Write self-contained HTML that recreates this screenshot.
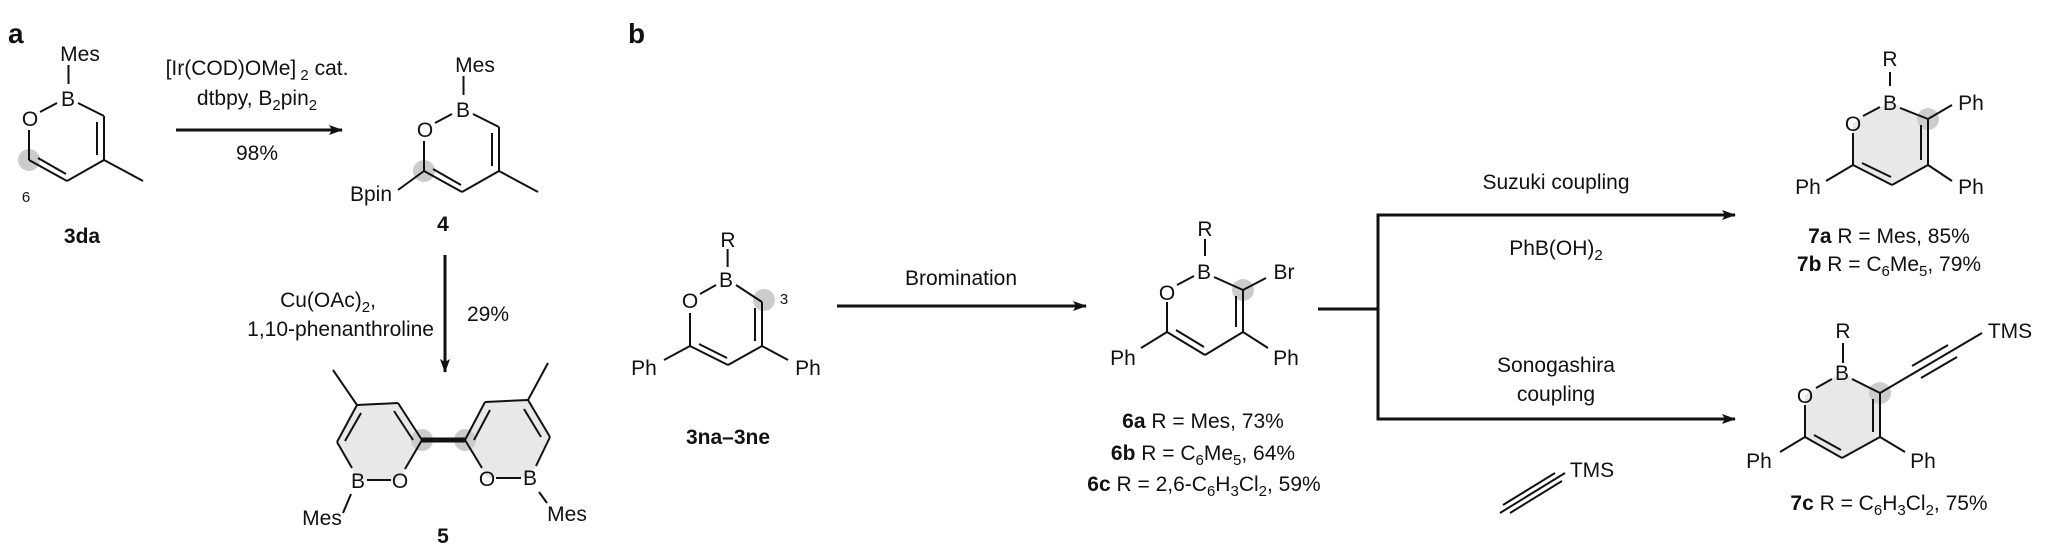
<!DOCTYPE html>
<html><head><meta charset="utf-8"><style>
html,body{margin:0;padding:0;background:#fff;}
svg{display:block;}
text{font-family:"Liberation Sans",Arial,sans-serif;font-size:21px;fill:#111;}
.b{font-weight:bold;}
.s{font-size:15px;}
line,polyline{stroke:#111;stroke-width:2;fill:none;stroke-linecap:butt;}
.ar{stroke-width:3;}
</style></head><body>
<svg width="2046" height="551" viewBox="0 0 2046 551" xmlns="http://www.w3.org/2000/svg">
<defs>
<marker id="ah" markerWidth="14" markerHeight="10" refX="13" refY="5" orient="auto" markerUnits="userSpaceOnUse">
<path d="M0,0 L14,5 L0,10 L3,5 Z" fill="#111"/></marker>
</defs>

<!-- a -->
<text x="8" y="43" class="b" style="font-size:28px">a</text>

<!-- 3da -->
<g id="m3da">
<circle cx="29" cy="160" r="11" fill="#ccc"/>
<line x1="68.5" y1="65" x2="68.5" y2="84"/>
<line x1="78" y1="103" x2="104" y2="116"/>
<line x1="104" y1="116" x2="104" y2="160"/>
<line x1="97" y1="122" x2="97" y2="155"/>
<line x1="104" y1="160" x2="67" y2="181"/>
<line x1="67" y1="181" x2="29" y2="160"/>
<line x1="66" y1="174" x2="38" y2="158"/>
<line x1="29" y1="160" x2="29" y2="130"/>
<line x1="40" y1="112" x2="57" y2="103"/>
<line x1="104" y1="160" x2="143" y2="181"/>
<text x="80" y="61" text-anchor="middle">Mes</text>
<text x="68" y="106" text-anchor="middle">B</text>
<text x="30" y="126" text-anchor="middle">O</text>
</g>
<text x="26" y="202" text-anchor="middle" class="s">6</text>
<text x="82" y="243" text-anchor="middle" class="b">3da</text>

<!-- arrow 1 -->
<line class="ar" x1="176" y1="130" x2="342" y2="130" marker-end="url(#ah)"/>
<text x="257" y="75" text-anchor="middle">[Ir(COD)OMe]<tspan class="s" dy="5"> 2</tspan><tspan dy="-5"> cat.</tspan></text>
<text x="257" y="105" text-anchor="middle">dtbpy, B<tspan class="s" dy="5">2</tspan><tspan dy="-5">pin</tspan><tspan class="s" dy="5">2</tspan></text>
<text x="257" y="160" text-anchor="middle">98%</text>

<!-- 4 -->
<g transform="translate(395,11)">
<circle cx="29" cy="160" r="11" fill="#ccc"/>
<line x1="68.5" y1="65" x2="68.5" y2="84"/>
<line x1="78" y1="103" x2="104" y2="116"/>
<line x1="104" y1="116" x2="104" y2="160"/>
<line x1="97" y1="122" x2="97" y2="155"/>
<line x1="104" y1="160" x2="67" y2="181"/>
<line x1="67" y1="181" x2="29" y2="160"/>
<line x1="66" y1="174" x2="38" y2="158"/>
<line x1="29" y1="160" x2="29" y2="130"/>
<line x1="40" y1="112" x2="57" y2="103"/>
<line x1="104" y1="160" x2="143" y2="181"/>
<line x1="29" y1="160" x2="3" y2="179"/>
<text x="80" y="61" text-anchor="middle">Mes</text>
<text x="68" y="106" text-anchor="middle">B</text>
<text x="30" y="126" text-anchor="middle">O</text>
</g>
<text x="371" y="201" text-anchor="middle">Bpin</text>
<text x="443" y="231" text-anchor="middle" class="b">4</text>

<!-- down arrow -->
<line class="ar" x1="445" y1="255" x2="445" y2="372" marker-end="url(#ah)"/>
<text x="328" y="307" text-anchor="middle">Cu(OAc)<tspan class="s" dy="5">2</tspan><tspan dy="-5">,</tspan></text>
<text x="434" y="336" text-anchor="end">1,10-phenanthroline</text>
<text x="488" y="321" text-anchor="middle">29%</text>

<!-- 5 -->
<polygon points="357,405 398,403 422,440 400,480 358,480 337,442" fill="#e8e8e8"/>
<polygon points="465,440 485,402 528,400 550,437 530,477 487,478" fill="#e8e8e8"/>
<circle cx="422" cy="440" r="11" fill="#ccc"/>
<circle cx="465" cy="440" r="11" fill="#ccc"/>
<line x1="333" y1="370" x2="357" y2="405"/>
<line x1="357" y1="405" x2="398" y2="403"/>
<line x1="398" y1="403" x2="422" y2="440"/>
<line x1="394" y1="411" x2="413" y2="440"/>
<line x1="357" y1="405" x2="337" y2="442"/>
<line x1="361" y1="413" x2="345" y2="441"/>
<line x1="337" y1="442" x2="352" y2="468"/>
<line x1="422" y1="440" x2="405" y2="469"/>
<line x1="367" y1="480" x2="391" y2="480"/>
<line x1="351" y1="494" x2="343" y2="513"/>
<line x1="422" y1="440" x2="465" y2="440" style="stroke-width:5"/>
<line x1="465" y1="440" x2="482" y2="468"/>
<line x1="465" y1="440" x2="485" y2="402"/>
<line x1="474" y1="440" x2="490" y2="410"/>
<line x1="485" y1="402" x2="528" y2="400"/>
<line x1="528" y1="400" x2="550" y2="437"/>
<line x1="524" y1="409" x2="541" y2="437"/>
<line x1="528" y1="400" x2="548" y2="363"/>
<line x1="550" y1="437" x2="536" y2="466"/>
<line x1="496" y1="478" x2="521" y2="478"/>
<line x1="539" y1="492" x2="547" y2="503"/>
<text x="358" y="488" text-anchor="middle">B</text>
<text x="400" y="488" text-anchor="middle">O</text>
<text x="322" y="525" text-anchor="middle">Mes</text>
<text x="487" y="486" text-anchor="middle">O</text>
<text x="530" y="485" text-anchor="middle">B</text>
<text x="567" y="521" text-anchor="middle">Mes</text>
<text x="443" y="543" text-anchor="middle" class="b">5</text>

<!-- b -->
<text x="628" y="43" class="b" style="font-size:28px">b</text>

<!-- 3na -->
<circle cx="764" cy="300" r="11" fill="#ccc"/>
<line x1="727.6" y1="249" x2="727.6" y2="267"/>
<line x1="736" y1="285" x2="762" y2="302"/>
<line x1="762" y1="302" x2="762" y2="346"/>
<line x1="755" y1="308" x2="755" y2="341"/>
<line x1="762" y1="346" x2="728" y2="365"/>
<line x1="728" y1="365" x2="690" y2="346"/>
<line x1="727" y1="358" x2="699" y2="344"/>
<line x1="690" y1="346" x2="690" y2="313"/>
<line x1="700" y1="294" x2="716" y2="285"/>
<line x1="690" y1="346" x2="664" y2="360"/>
<line x1="762" y1="346" x2="788" y2="360"/>
<text x="728" y="247" text-anchor="middle">R</text>
<text x="726" y="287" text-anchor="middle">B</text>
<text x="690" y="308" text-anchor="middle">O</text>
<text x="784" y="304" text-anchor="middle" class="s">3</text>
<text x="644" y="375" text-anchor="middle">Ph</text>
<text x="808" y="375" text-anchor="middle">Ph</text>
<text x="728" y="444" text-anchor="middle" class="b">3na–3ne</text>

<!-- bromination -->
<line class="ar" x1="837" y1="306" x2="1086" y2="306" marker-end="url(#ah)"/>
<text x="961" y="285" text-anchor="middle">Bromination</text>

<!-- 6 -->
<circle cx="1243" cy="290" r="11" fill="#ccc"/>
<line x1="1205" y1="239" x2="1205" y2="256"/>
<line x1="1214" y1="277" x2="1243" y2="290"/>
<line x1="1243" y1="290" x2="1266" y2="278"/>
<line x1="1243" y1="290" x2="1243" y2="332"/>
<line x1="1236" y1="296" x2="1236" y2="327"/>
<line x1="1243" y1="332" x2="1205" y2="355"/>
<line x1="1205" y1="355" x2="1167" y2="332"/>
<line x1="1204" y1="347" x2="1176" y2="330"/>
<line x1="1167" y1="332" x2="1167" y2="302"/>
<line x1="1177" y1="285" x2="1194" y2="276"/>
<line x1="1167" y1="332" x2="1141" y2="348"/>
<line x1="1243" y1="332" x2="1268" y2="348"/>
<text x="1205" y="236" text-anchor="middle">R</text>
<text x="1204" y="279" text-anchor="middle">B</text>
<text x="1167" y="300" text-anchor="middle">O</text>
<text x="1284" y="279" text-anchor="middle">Br</text>
<text x="1123" y="365" text-anchor="middle">Ph</text>
<text x="1286" y="365" text-anchor="middle">Ph</text>
<text x="1203" y="428" text-anchor="middle"><tspan class="b">6a</tspan> R = Mes, 73%</text>
<text x="1203" y="460" text-anchor="middle"><tspan class="b">6b</tspan> R = C<tspan class="s" dy="5">6</tspan><tspan dy="-5">Me</tspan><tspan class="s" dy="5">5</tspan><tspan dy="-5">, 64%</tspan></text>
<text x="1204" y="491" text-anchor="middle"><tspan class="b">6c</tspan> R = 2,6-C<tspan class="s" dy="5">6</tspan><tspan dy="-5">H</tspan><tspan class="s" dy="5">3</tspan><tspan dy="-5">Cl</tspan><tspan class="s" dy="5">2</tspan><tspan dy="-5">, 59%</tspan></text>

<!-- bracket -->
<line class="ar" x1="1318" y1="309" x2="1378" y2="309"/>
<line class="ar" x1="1378" y1="213.5" x2="1378" y2="420.5"/>
<line class="ar" x1="1377" y1="215" x2="1735" y2="215" marker-end="url(#ah)"/>
<line class="ar" x1="1377" y1="419" x2="1735" y2="419" marker-end="url(#ah)"/>
<text x="1556" y="189" text-anchor="middle">Suzuki coupling</text>
<text x="1556" y="255" text-anchor="middle">PhB(OH)<tspan class="s" dy="5">2</tspan></text>
<text x="1556" y="372" text-anchor="middle">Sonogashira</text>
<text x="1556" y="401" text-anchor="middle">coupling</text>
<line x1="1565" y1="473" x2="1500" y2="513"/>
<line x1="1555" y1="473" x2="1503" y2="505"/>
<line x1="1562" y1="481" x2="1510" y2="513"/>
<text x="1592" y="477" text-anchor="middle">TMS</text>

<!-- 7a -->
<polygon points="1890,102 1928,119 1928,165 1892,185 1853,165 1853,123" fill="#e8e8e8"/>
<circle cx="1928" cy="119" r="11" fill="#ccc"/>
<line x1="1890" y1="72" x2="1890" y2="86"/>
<line x1="1900" y1="108" x2="1928" y2="119"/>
<line x1="1928" y1="119" x2="1952" y2="105"/>
<line x1="1928" y1="119" x2="1928" y2="165"/>
<line x1="1921" y1="125" x2="1921" y2="160"/>
<line x1="1928" y1="165" x2="1892" y2="185"/>
<line x1="1892" y1="185" x2="1853" y2="165"/>
<line x1="1891" y1="177" x2="1862" y2="163"/>
<line x1="1853" y1="165" x2="1853" y2="133"/>
<line x1="1863" y1="116" x2="1880" y2="107"/>
<line x1="1928" y1="165" x2="1952" y2="181"/>
<line x1="1853" y1="165" x2="1826" y2="181"/>
<text x="1890" y="66" text-anchor="middle">R</text>
<text x="1890" y="110" text-anchor="middle">B</text>
<text x="1853" y="131" text-anchor="middle">O</text>
<text x="1971" y="110" text-anchor="middle">Ph</text>
<text x="1971" y="194" text-anchor="middle">Ph</text>
<text x="1808" y="194" text-anchor="middle">Ph</text>
<text x="1889" y="243" text-anchor="middle"><tspan class="b">7a</tspan> R = Mes, 85%</text>
<text x="1889" y="271" text-anchor="middle"><tspan class="b">7b</tspan> R = C<tspan class="s" dy="5">6</tspan><tspan dy="-5">Me</tspan><tspan class="s" dy="5">5</tspan><tspan dy="-5">, 79%</tspan></text>

<!-- 7c -->
<polygon points="1842,372 1880,393 1880,437 1842,458 1805,437 1805,395" fill="#e8e8e8"/>
<circle cx="1880" cy="393" r="11" fill="#ccc"/>
<line x1="1843" y1="343" x2="1843" y2="363"/>
<line x1="1852" y1="379" x2="1880" y2="393"/>
<line x1="1880" y1="393" x2="1982" y2="333"/>
<line x1="1912" y1="366" x2="1948" y2="345"/>
<line x1="1921" y1="378" x2="1957" y2="357"/>
<line x1="1880" y1="393" x2="1880" y2="437"/>
<line x1="1873" y1="399" x2="1873" y2="432"/>
<line x1="1880" y1="437" x2="1842" y2="458"/>
<line x1="1842" y1="458" x2="1805" y2="437"/>
<line x1="1841" y1="450" x2="1814" y2="435"/>
<line x1="1805" y1="437" x2="1805" y2="405"/>
<line x1="1816" y1="388" x2="1832" y2="379"/>
<line x1="1880" y1="437" x2="1905" y2="452"/>
<line x1="1805" y1="437" x2="1780" y2="452"/>
<text x="1843" y="338" text-anchor="middle">R</text>
<text x="1842" y="380" text-anchor="middle">B</text>
<text x="1805" y="403" text-anchor="middle">O</text>
<text x="2010" y="338" text-anchor="middle">TMS</text>
<text x="1759" y="468" text-anchor="middle">Ph</text>
<text x="1923" y="468" text-anchor="middle">Ph</text>
<text x="1889" y="510" text-anchor="middle"><tspan class="b">7c</tspan> R = C<tspan class="s" dy="5">6</tspan><tspan dy="-5">H</tspan><tspan class="s" dy="5">3</tspan><tspan dy="-5">Cl</tspan><tspan class="s" dy="5">2</tspan><tspan dy="-5">, 75%</tspan></text>
</svg>
</body></html>
